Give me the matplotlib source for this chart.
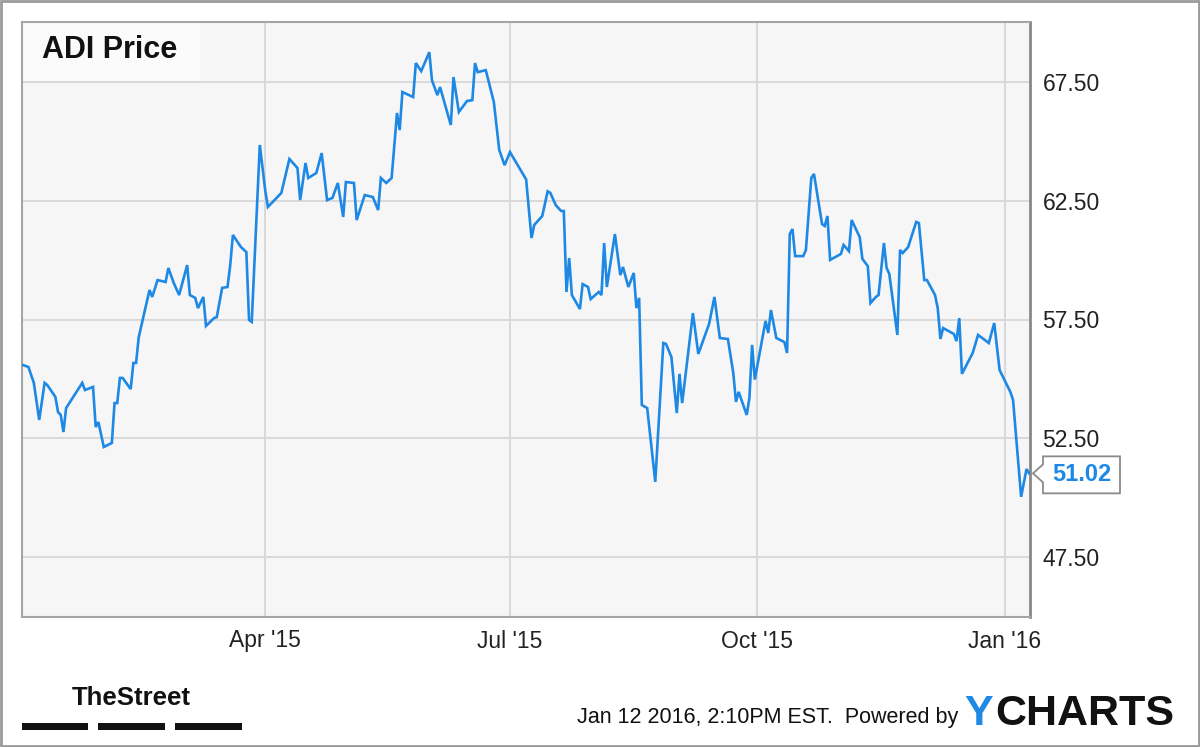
"""ADI price chart, YCharts style (Jan 2015 - Jan 2016)."""
import matplotlib
matplotlib.use('Agg')
import matplotlib.pyplot as plt
import matplotlib.dates as mdates
from matplotlib.patches import Rectangle, Polygon
import pandas as pd

# days since 2015-01-01 and closing price
day = [0, 2, 4, 6, 8, 9, 12, 13, 14, 15, 16, 22, 23, 26, 27, 28, 30, 33, 34, 35,
       36, 37, 40, 41, 42, 43, 47, 48, 50, 53, 54, 56, 58, 61, 62, 64, 65, 67, 68, 71,
       72, 74, 76, 77, 78, 81, 83, 84, 85, 88, 90, 91, 96, 99, 102, 103, 105, 106, 109, 111,
       113, 115, 117, 119, 120, 123, 124, 127, 130, 132, 133, 135, 137, 139, 140, 141, 145, 146, 148, 151,
       152, 154, 155, 159, 160, 162, 165, 167, 168, 169, 172, 175, 177, 179, 181, 187, 189, 190, 193, 195,
       196, 198, 200, 201, 202, 203, 204, 207, 208, 210, 211, 214, 215, 216, 217, 220, 222, 223, 225, 227,
       228, 229, 230, 232, 235, 238, 239, 241, 243, 244, 245, 249, 251, 255, 257, 259, 262, 264, 265, 266,
       269, 270, 271, 272, 276, 277, 278, 280, 283, 284, 285, 286, 287, 290, 291, 293, 294, 297, 298, 299,
       300, 304, 305, 307, 308, 311, 312, 314, 315, 317, 318, 320, 321, 322, 325, 326, 327, 329, 332, 333,
       335, 336, 339, 340, 341, 342, 346, 347, 348, 349, 353, 355, 359, 361, 363, 367, 368, 371, 373, 374]
price = [55.58, 55.50, 54.83, 53.27, 54.83, 54.74, 54.24, 53.60, 53.48, 52.76, 53.77, 54.83, 54.53, 54.66, 52.97, 53.18, 52.13, 52.30, 53.98, 53.98,
         55.04, 55.04, 54.57, 55.67, 55.67, 56.76, 58.74, 58.45, 59.16, 59.08, 59.67, 59.04, 58.53, 59.79, 58.53, 58.41, 57.98, 58.45, 57.23, 57.56,
         57.60, 58.83, 58.87, 59.79, 61.06, 60.55, 60.34, 57.48, 57.40, 64.85, 62.95, 62.24, 62.83, 64.26, 63.88, 62.53, 64.09, 63.46, 63.67, 64.51,
         62.53, 62.62, 63.25, 61.82, 63.29, 63.25, 61.69, 62.74, 62.66, 62.11, 63.46, 63.25, 63.46, 66.20, 65.48, 67.08, 66.87, 68.30, 67.96, 68.76,
         67.58, 66.95, 67.29, 65.69, 67.71, 66.24, 66.70, 66.74, 68.30, 67.92, 68.00, 66.66, 64.64, 64.00, 64.55, 63.40, 60.93, 61.48, 61.86, 62.90,
         62.83, 62.32, 62.07, 62.07, 58.66, 60.09, 58.53, 57.94, 58.99, 58.87, 58.36, 58.66, 58.53, 60.72, 58.87, 61.10, 59.37, 59.71, 58.87, 59.46,
         57.98, 58.41, 53.90, 53.77, 50.66, 56.51, 56.47, 55.92, 53.56, 55.21, 53.98, 57.77, 56.05, 57.31, 58.45, 56.72, 56.68, 55.25, 54.03, 54.45,
         53.48, 54.20, 56.43, 54.97, 57.44, 56.93, 57.90, 56.72, 56.55, 56.09, 61.10, 61.31, 60.17, 60.17, 60.43, 63.46, 63.63, 61.52, 61.44, 61.86,
         60.01, 60.26, 60.64, 60.38, 61.69, 60.97, 60.05, 59.75, 58.19, 58.45, 58.53, 60.72, 59.67, 59.42, 56.85, 60.43, 60.30, 60.55, 61.61, 61.56,
         59.16, 59.16, 58.53, 57.98, 56.68, 57.14, 56.89, 56.59, 57.56, 55.21, 56.09, 56.85, 56.51, 57.35, 55.37, 54.45, 54.11, 50.03, 51.20, 51.02]
ytick_vals = [47.5, 52.5, 57.5, 62.5, 67.5]
xtick_dates = ['2015-04-01', '2015-07-01', '2015-10-01', '2016-01-01']
xtick_labels = ["Apr '15", "Jul '15", "Oct '15", "Jan '16"]
last_label = '51.02'

LINE = '#1e88e5'
GRID = '#d9d9d9'
W, H = 1200, 747


def px(x, y):
    return (x / W, 1 - y / H)


plt.rcParams['font.family'] = ['Liberation Sans', 'DejaVu Sans']
fig = plt.figure(figsize=(12, 7.47), dpi=100)
fig.patch.set_facecolor('white')
ax = fig.add_axes([22 / W, 1 - 617 / H, 1008 / W, 595 / H])
ax.set_facecolor('#f6f6f6')

dates = pd.Timestamp('2015-01-01') + pd.to_timedelta(day, unit='D')
ax.plot(dates, price, color=LINE, lw=1.9, solid_joinstyle='miter', zorder=3)

x0 = pd.Timestamp('2015-01-01') - pd.Timedelta(days=0.4)
x1 = pd.Timestamp('2015-01-01') + pd.Timedelta(days=374.3)
ax.set_xlim(x0, x1)
ax.set_ylim(44.97, 70.03)

ax.set_xticks(pd.to_datetime(xtick_dates))
ax.set_xticklabels(xtick_labels)
ax.set_yticks(ytick_vals)
ax.set_yticklabels(['%.2f' % v for v in ytick_vals])
ax.yaxis.tick_right()
ax.tick_params(axis='both', length=0, labelsize=16.5, colors='#222')
ax.tick_params(axis='y', pad=9)
ax.tick_params(axis='x', pad=9)
ax.grid(True, color=GRID, lw=1.4, zorder=0)
ax.set_axisbelow(True)
for s in ['left', 'top', 'bottom']:
    ax.spines[s].set_color('#a5a5a5')
    ax.spines[s].set_linewidth(1.5)
ax.spines['right'].set_color('#888888')
ax.spines['right'].set_linewidth(2)

# title box
ax.add_patch(Rectangle((0, 1 - 59 / 595), 178 / 1008, 59 / 595, transform=ax.transAxes,
                       fc='#fbfbfb', ec='none', zorder=2))
fig.text(*px(42, 50), 'ADI Price', fontsize=22, weight='bold', color='#111', va='center', ha='left')

# last value label
fig.canvas.draw()
tx, ty = ax.transData.transform((mdates.date2num(dates[-1]), price[-1]))
ty_px = H - ty
poly = [px(1033, ty_px), px(1043, ty_px - 9), px(1043, ty_px - 17), px(1120, ty_px - 17),
        px(1120, ty_px + 20), px(1043, ty_px + 20), px(1043, ty_px + 9)]
fig.add_artist(Polygon(poly, closed=True, transform=fig.transFigure, fc='white', ec='#8a8a8a', lw=1.3))
fig.text(*px(1082, ty_px + 1.5), last_label, fontsize=17, weight='bold', color=LINE, ha='center', va='center')

# footer
fig.text(*px(131, 698), 'TheStreet', fontsize=18.5, weight='bold', color='#111',
         ha='center', va='center')
for xa, xb in [(22, 88), (98, 165), (175, 242)]:
    fig.add_artist(Rectangle(px(xa, 730), (xb - xa) / W, 7 / H, transform=fig.transFigure,
                             fc='#111', ec='none'))
fig.text(*px(958, 717), 'Jan 12 2016, 2:10PM EST.  Powered by', fontsize=15.5, color='#111',
         ha='right', va='center')
fig.text(*px(964, 714), 'Y', fontsize=31, weight='bold', color=LINE, ha='left', va='center')
fig.text(*px(995, 714), 'CHARTS', fontsize=31, weight='bold', color='#111', ha='left', va='center')

# outer frame
fig.add_artist(Rectangle((0.001, 0.001), 0.998, 0.997, transform=fig.transFigure,
                         fill=False, ec='#9a9a9a', lw=2))

fig.savefig('out.png', dpi=100)
